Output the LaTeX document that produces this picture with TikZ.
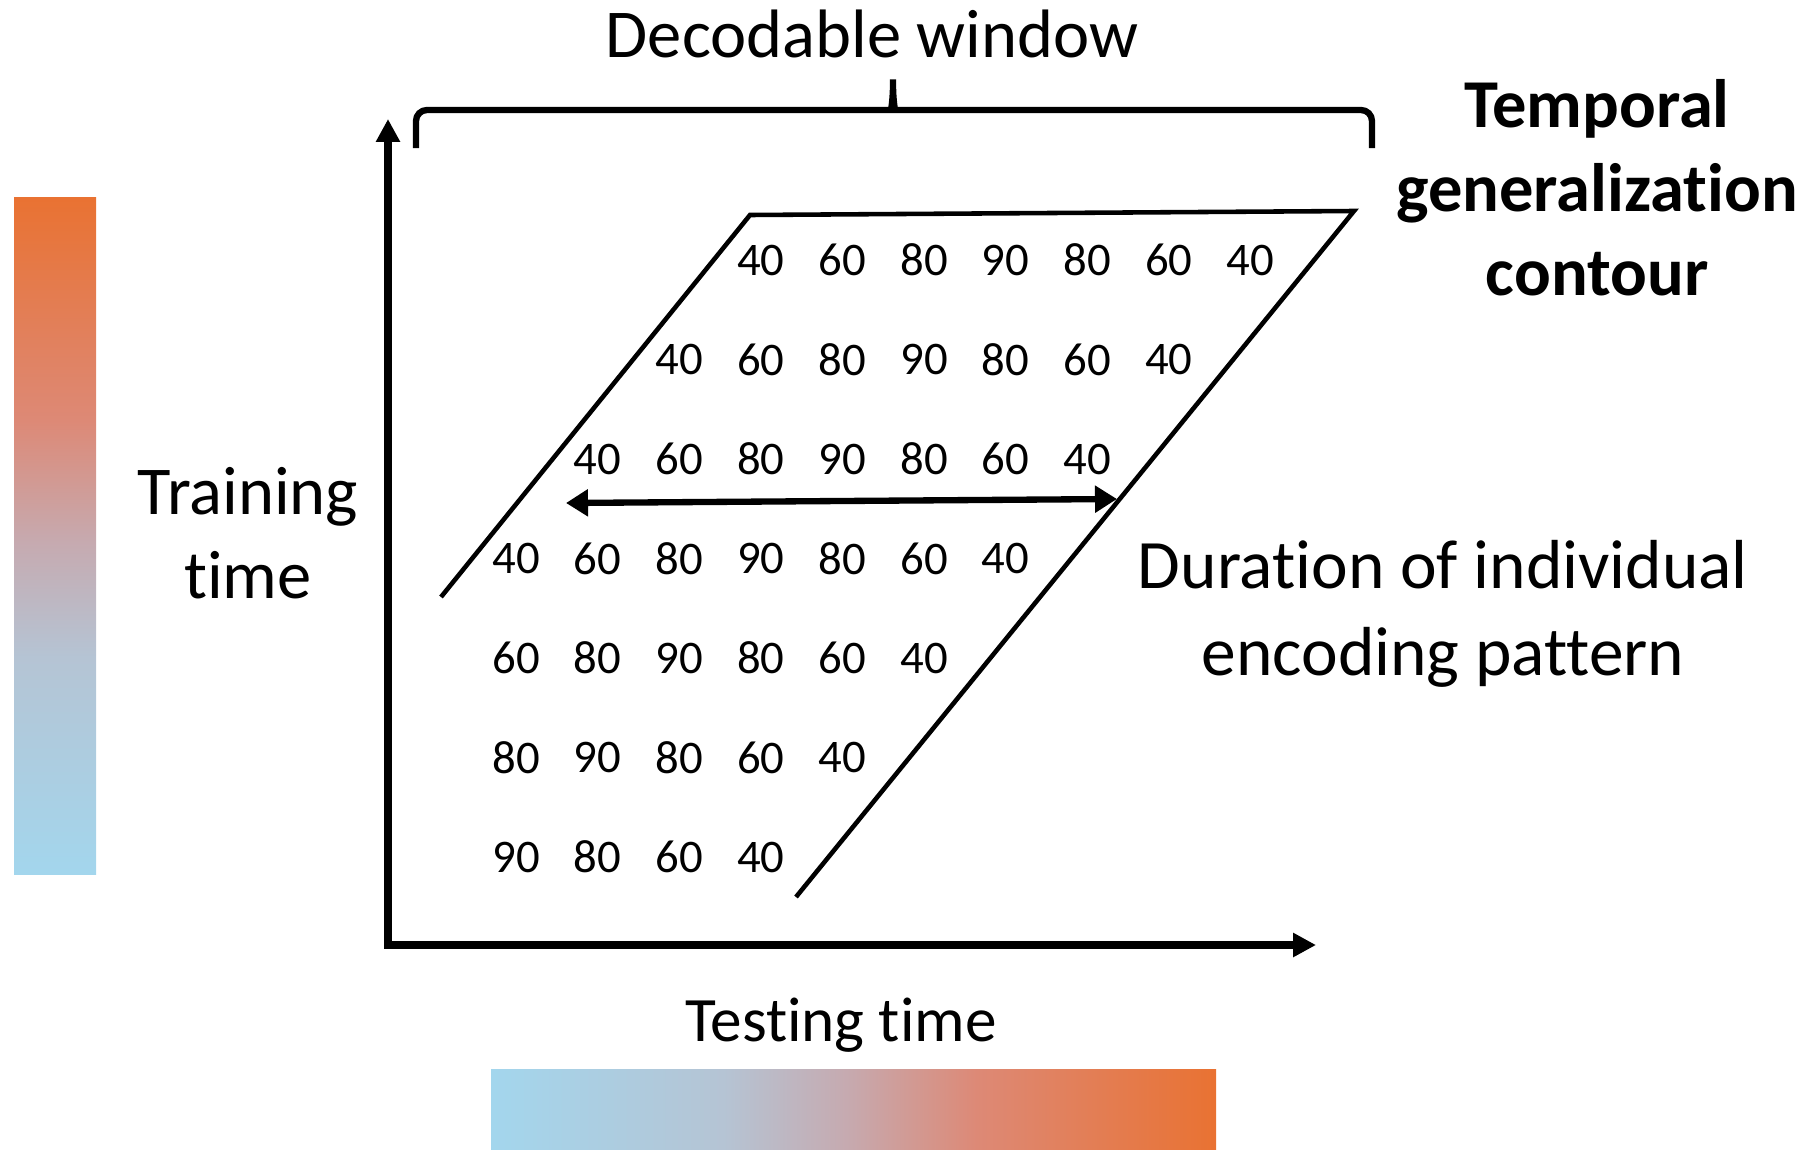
\documentclass[tikz,border=0pt]{standalone}
\usepackage{fontspec}
\setmainfont[Ligatures=NoCommon]{Carlito}
\usetikzlibrary{arrows.meta}
\usetikzlibrary{positioning, calc}

\definecolor{barorange}{RGB}{233,114,50}
\definecolor{barsalmon}{RGB}{221,137,118}
\definecolor{barmauve}{RGB}{198,170,176}
\definecolor{barsky}{RGB}{181,196,212}
\definecolor{barblue}{RGB}{163,214,237}

\pgfdeclareverticalshading{trainshade}{100bp}{color(0bp)=(barblue); color(25bp)=(barblue);
  color(41bp)=(barsky); color(49.5bp)=(barmauve); color(58.5bp)=(barsalmon);
  color(75bp)=(barorange); color(100bp)=(barorange)}
\pgfdeclarehorizontalshading{testshade}{100bp}{color(0bp)=(barblue); color(25bp)=(barblue);
  color(41bp)=(barsky); color(49.5bp)=(barmauve); color(58.5bp)=(barsalmon);
  color(75bp)=(barorange); color(100bp)=(barorange)}

\tikzset{
  num/.style={font=\fontsize{26.6}{32}\selectfont, inner sep=0pt},
  txt/.style={font=\fontsize{39}{47.6}\selectfont, align=center, anchor=base, inner sep=0pt},
  axis/.style={line width=4pt, -{Triangle[length=0.46cm,width=0.46cm]}},
}

\begin{document}
\begin{tikzpicture}[x=0.02cm, y=-0.02cm]
      \useasboundingbox (0,0) rectangle (1814,1149);
      \def\colw{81.6}
      \def\rowh{99.5}

      % COLOUR BARS
      \shade[shading=trainshade] (14,197) rectangle (96,874);
      \shade[shading=testshade] (491,1069) rectangle (1216,1149);

      % AXES
      \coordinate (origin) at (388,945);
      \coordinate (ytip) at (388,119);
      \coordinate (xtip) at (1316,945);
      \draw[axis] ($(origin)+(-4,0)$) -- (xtip);
      \draw[axis] (origin) -- (ytip);

      % BRACE
      \draw[line width=3.6pt, rounded corners=0.22cm]
      (416,148) -- (416,110) -- (880,110) .. controls (891,110) and (893,100) .. (893,73)
      .. controls (893,100) and (895,110) .. (906,110) -- (1372,110) -- (1372,148);

      % CONTOUR
      \draw[line width=2.6pt] (441,597) -- (750,215) -- (1354,211) -- (796,897);

      % ACCURACY GRID
      \foreach \r in {0,...,6}{
        \foreach \v [count=\k from 0] in {40,60,80,90,80,60,40}{
          \pgfmathtruncatemacro\c{3-\r+\k}
          \ifnum\c<0 \else
            \node[num] (n\r-\c) at (516+\c*\colw, 260+\r*\rowh) {\v};
          \fi
        }
      }

      % DURATION
      \coordinate (dleft) at (566,503);
      \coordinate (dright) at (1117,499);
      \draw[line width=3.6pt, {Triangle[length=0.44cm,width=0.52cm]}-{Triangle[length=0.44cm,width=0.52cm]}]
      (dleft) -- (dright);

      % LABELS
      \node[txt] (decode) at (872,58) {Decodable window};
      \node[txt, font=\fontsize{39}{47.6}\selectfont\bfseries] (contour) at (1597,295)
      {Temporal\\generalization\\contour};
      \node[txt] (train) at (248,598) {Training\\time};
      \node[txt, font=\fontsize{39.5}{49}\selectfont] (dur) at (1443,675)
      {Duration of individual\\encoding pattern};
      \node[txt, font=\fontsize{36}{44}\selectfont] (test) at (841,1041) {Testing time};
\end{tikzpicture}
\end{document}
